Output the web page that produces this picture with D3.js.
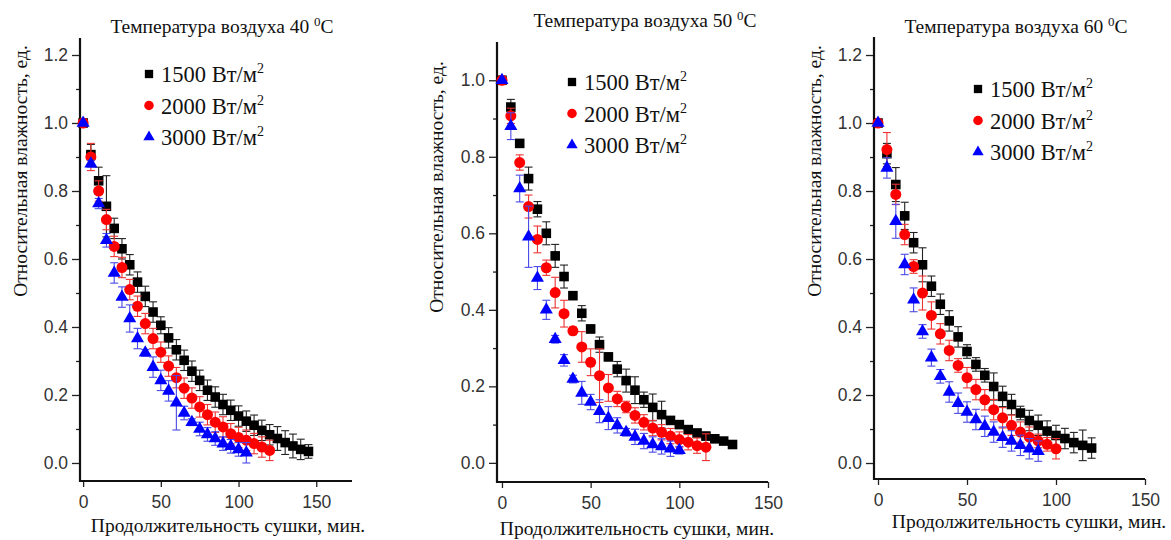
<!DOCTYPE html>
<html>
<head>
<meta charset="utf-8">
<script src="https://cdn.jsdelivr.net/npm/d3@7"></script>
<style>
  body { margin: 0; background: #fff; }
  svg { display: block; }
  .serif { font-family: "Liberation Serif", "Times New Roman", serif; fill: #111; }
  .tick text { font-family: "Liberation Sans", Arial, sans-serif; fill: #333; }
</style>
</head>
<body>
<svg id="chart" width="1171" height="540"></svg>
<script>
// time points, min
const timeMin = [0,5,10,15,20,25,30,35,40,45,50,55,60,65,70,75,80,85,90,95,100,105,110,115,120,125,130,135,140,145];

const powers = ["1500", "2000", "3000"];
const temps = ["40", "50", "60"];

// 40 C
const h40_1500 = [1.0,0.907,0.83,0.755,0.69,0.63,0.583,0.532,0.49,0.444,0.405,0.368,0.333,0.302,0.27,0.243,0.214,0.194,0.172,0.155,0.138,0.123,0.111,0.096,0.083,0.072,0.06,0.05,0.04,0.034];
const e40_1500 = [0,0.03,0.04,0.09,0.03,0.03,0.03,0.03,0.03,0.03,0.025,0.03,0.03,0.03,0.03,0.03,0.03,0.03,0.03,0.03,0.03,0.03,0.03,0.03,0.03,0.035,0.035,0.035,0.03,0.02];
const h40_2000 = [1.0,0.90,0.80,0.716,0.637,0.575,0.51,0.461,0.41,0.366,0.326,0.285,0.251,0.22,0.191,0.165,0.142,0.12,0.106,0.086,0.075,0.067,0.057,0.047,0.037];
const e40_2000 = [0,0.04,0.03,0.03,0.03,0.03,0.03,0.03,0.03,0.03,0.03,0.03,0.03,0.03,0.03,0.03,0.03,0.03,0.03,0.03,0.03,0.03,0.03,0.03,0.03];
const h40_3000 = [1.0,0.88,0.763,0.655,0.559,0.488,0.425,0.366,0.324,0.282,0.243,0.212,0.177,0.147,0.12,0.10,0.084,0.072,0.057,0.049,0.04,0.03];
const e40_3000 = [0,0.01,0.015,0.02,0.03,0.03,0.04,0.03,0.01,0.03,0.03,0.03,0.08,0.02,0.01,0.02,0.02,0.02,0.02,0.02,0.02,0.03];

// 50 C
const h50_1500 = [1.0,0.93,0.835,0.743,0.663,0.60,0.541,0.487,0.437,0.391,0.35,0.309,0.277,0.245,0.215,0.19,0.165,0.145,0.126,0.111,0.10,0.087,0.078,0.07,0.063,0.057,0.048];
const e50_1500 = [0,0.02,0.01,0.03,0.02,0.03,0.03,0.03,0.01,0.02,0.01,0.02,0.01,0.02,0.03,0.035,0.02,0.035,0.035,0.01,0.01,0.01,0.01,0.01,0.01,0.005,0.005];
const h50_2000 = [1.0,0.907,0.785,0.67,0.584,0.51,0.445,0.39,0.345,0.303,0.263,0.228,0.196,0.167,0.146,0.124,0.106,0.091,0.08,0.07,0.061,0.054,0.045,0.041];
const e50_2000 = [0,0.02,0.02,0.03,0.035,0.02,0.04,0.035,0.01,0.04,0.035,0.07,0.035,0.02,0.015,0.02,0.02,0.02,0.02,0.02,0.02,0.02,0.02,0.035];
const h50_3000 = [1.0,0.88,0.717,0.591,0.483,0.40,0.323,0.268,0.219,0.183,0.159,0.135,0.117,0.098,0.08,0.068,0.057,0.048,0.043,0.037,0.033];
const e50_3000 = [0,0.035,0.035,0.08,0.03,0.025,0.01,0.015,0.01,0.03,0.02,0.03,0.03,0.02,0.01,0.02,0.02,0.02,0.02,0.02,0.01];

// 60 C
const h60_1500 = [1.0,0.91,0.819,0.727,0.648,0.583,0.52,0.467,0.418,0.371,0.328,0.29,0.258,0.225,0.196,0.172,0.147,0.125,0.111,0.094,0.081,0.072,0.06,0.052,0.044];
const e60_1500 = [0,0.03,0.05,0.04,0.03,0.05,0.03,0.03,0.03,0.03,0.02,0.02,0.02,0.04,0.03,0.03,0.02,0.03,0.03,0.03,0.03,0.03,0.03,0.045,0.03];
const h60_2000 = [1.0,0.922,0.79,0.672,0.578,0.50,0.434,0.38,0.331,0.287,0.251,0.216,0.186,0.157,0.133,0.111,0.091,0.076,0.065,0.055,0.042];
const e60_2000 = [0,0.05,0.03,0.03,0.02,0.05,0.04,0.03,0.03,0.02,0.03,0.03,0.03,0.03,0.03,0.03,0.03,0.03,0.02,0.02,0.03];
const h60_3000 = [1.0,0.868,0.711,0.584,0.48,0.387,0.31,0.255,0.209,0.176,0.15,0.128,0.108,0.091,0.076,0.065,0.052,0.042,0.035];
const e60_3000 = [0,0.03,0.05,0.03,0.035,0.02,0.025,0.02,0.03,0.03,0.03,0.03,0.03,0.03,0.03,0.03,0.03,0.03,0.03];

const xTicks = [0, 50, 100, 150];
const yTicks12 = [0, 0.2, 0.4, 0.6, 0.8, 1.0, 1.2];
const yTicks10 = [0, 0.2, 0.4, 0.6, 0.8, 1.0];

const yLabel = "Относительная влажность, ед.";
const xLabel = "Продолжительность сушки, мин.";

// стиль серий: маркер, цвет, цвет усов
const styles = [
  { sym: d3.symbolSquare, size: 92, fill: "#000", err: "#222" },
  { sym: d3.symbolCircle, size: 95, fill: "#ff0000", err: "#ee3333" },
  { sym: d3.symbolTriangle, size: 74, fill: "#0000ff", err: "#4a4ae6" }
];

// раскладка панелей
const panels = [
  { t: temps[0], series: [[h40_1500, e40_1500], [h40_2000, e40_2000], [h40_3000, e40_3000]],
    xDom: [-2, 173], xRng: [80, 352], yDom: [-0.053, 1.25], yRng: [481, 38], yTicks: yTicks12,
    title: [222, 33], yLab: [20, 171], xLab: [228, 532], leg: [149, 74] },
  { t: temps[1], series: [[h50_1500, e50_1500], [h50_2000, e50_2000], [h50_3000, e50_3000]],
    xDom: [-2.8, 150], xRng: [497, 768], yDom: [-0.05, 1.1], yRng: [482, 42], yTicks: yTicks10,
    title: [645, 27], yLab: [436, 187], xLab: [637, 535], leg: [572, 82] },
  { t: temps[2], series: [[h60_1500, e60_1500], [h60_2000, e60_2000], [h60_3000, e60_3000]],
    xDom: [-2.25, 150], xRng: [874, 1145], yDom: [-0.047, 1.253], yRng: [479, 37], yTicks: yTicks12,
    title: [1016, 33], yLab: [814, 171], xLab: [1029, 528], leg: [978, 89] }
];

const svg = d3.select("#chart");

panels.forEach(p => {
  const x = d3.scaleLinear().domain(p.xDom).range(p.xRng);
  const y = d3.scaleLinear().domain(p.yDom).range(p.yRng);
  const g = svg.append("g");

  // оси
  const yMinor = d3.range(0.1, p.yTicks[p.yTicks.length - 1], 0.2);
  g.append("g")
    .attr("transform", `translate(${p.xRng[0]},0)`)
    .call(d3.axisLeft(y).tickValues(yMinor).tickSize(4).tickFormat(""))
    .call(a => a.select(".domain").remove())
    .selectAll("line").attr("stroke", "#222").attr("stroke-width", 1.3);
  g.append("g")
    .attr("transform", `translate(${p.xRng[0]},0)`)
    .call(d3.axisLeft(y).tickValues(p.yTicks).tickSize(8).tickPadding(4).tickFormat(d3.format(".1f")))
    .call(a => a.select(".domain").remove())
    .call(a => a.selectAll("text").attr("font-size", 17.5))
    .selectAll("line").attr("stroke", "#222").attr("stroke-width", 1.3);

  g.append("g")
    .attr("transform", `translate(0,${p.yRng[0]})`)
    .call(d3.axisBottom(x).tickValues(xTicks).tickSize(6).tickPadding(9).tickFormat(d3.format("d")))
    .call(a => a.select(".domain").remove())
    .call(a => a.selectAll("text").attr("font-size", 17.5))
    .selectAll("line").attr("stroke", "#222").attr("stroke-width", 1.3);

  g.append("line")
    .attr("x1", p.xRng[0]).attr("x2", p.xRng[0])
    .attr("y1", p.yRng[1]).attr("y2", p.yRng[0] + 1)
    .attr("stroke", "#111").attr("stroke-width", 2.2);
  g.append("line")
    .attr("x1", p.xRng[0] - 1).attr("x2", p.xRng[1])
    .attr("y1", p.yRng[0]).attr("y2", p.yRng[0])
    .attr("stroke", "#111").attr("stroke-width", 2.2);

  // данные
  p.series.forEach((s, i) => {
    const st = styles[i];
    const pts = s[0].map((v, k) => ({ t: timeMin[k], v: v, e: s[1][k] }));
    const eg = g.append("g").attr("stroke", st.err).attr("stroke-width", 1.1).attr("fill", "none");
    pts.filter(d => d.e > 0).forEach(d => {
      const cx = x(d.t), y1 = y(d.v + d.e), y2 = y(d.v - d.e);
      eg.append("line").attr("x1", cx).attr("x2", cx).attr("y1", y1).attr("y2", y2);
      eg.append("line").attr("x1", cx - 4).attr("x2", cx + 4).attr("y1", y1).attr("y2", y1);
      eg.append("line").attr("x1", cx - 4).attr("x2", cx + 4).attr("y1", y2).attr("y2", y2);
    });
    g.append("g").selectAll("path")
      .data(pts)
      .enter().append("path")
      .attr("d", d3.symbol().type(st.sym).size(st.size))
      .attr("transform", d => `translate(${x(d.t)},${y(d.v)})`)
      .attr("fill", st.fill);
  });

  // заголовок
  const tt = g.append("text").attr("class", "serif")
    .attr("x", p.title[0]).attr("y", p.title[1])
    .attr("text-anchor", "middle").attr("font-size", 19.5);
  tt.append("tspan").text("Температура воздуха " + p.t + " ");
  tt.append("tspan").attr("font-size", 13).attr("dy", -7).text("0");
  tt.append("tspan").attr("dy", 7).text("C");

  // подписи осей
  g.append("text").attr("class", "serif")
    .attr("transform", `translate(${p.yLab[0]},${p.yLab[1]}) rotate(-90)`)
    .attr("text-anchor", "middle").attr("dy", "0.35em").attr("font-size", 19.5)
    .text(yLabel);
  g.append("text").attr("class", "serif")
    .attr("x", p.xLab[0]).attr("y", p.xLab[1])
    .attr("text-anchor", "middle").attr("font-size", 19.5)
    .text(xLabel);

  // легенда
  powers.forEach((pw, i) => {
    const st = styles[i];
    const ly = p.leg[1] + i * 31.5;
    g.append("path")
      .attr("d", d3.symbol().type(st.sym).size(st.size * 0.75))
      .attr("transform", `translate(${p.leg[0]},${ly})`)
      .attr("fill", st.fill);
    const lt = g.append("text").attr("class", "serif")
      .attr("x", p.leg[0] + 12).attr("y", ly + 8).attr("font-size", 22.5);
    lt.append("tspan").text(pw + " Вт/м");
    lt.append("tspan").attr("font-size", 14).attr("dy", -9).text("2");
  });
});
</script>
</body>
</html>
